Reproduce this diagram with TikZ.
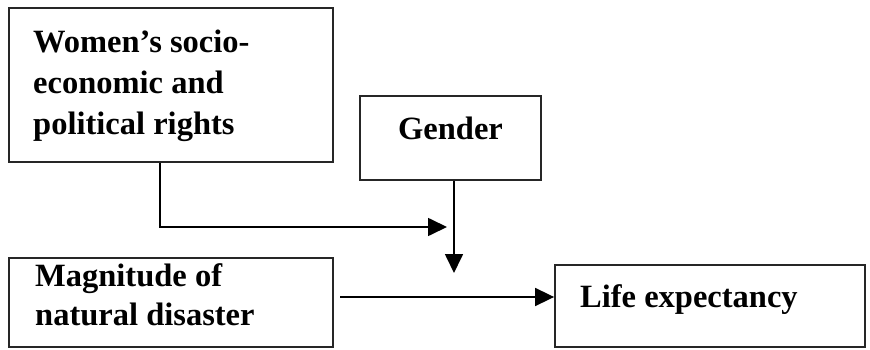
\documentclass[tikz,border=0pt]{standalone}
\usepackage{fontspec}
\setmainfont{Liberation Serif}
\usetikzlibrary{arrows.meta}
\begin{document}
\begin{tikzpicture}[x=1pt,y=-1pt,
  box/.style={draw=black!85,line width=1.8pt,rectangle,inner sep=0pt},
  lbl/.style={anchor=base west,inner sep=0pt,font=\fontsize{32.5}{38}\selectfont\bfseries},
  arr/.style={line width=1.7pt,-{Triangle[length=19pt,width=18pt]}}]
\useasboundingbox (0,0) rectangle (870,350);
% boxes
\node[box,minimum width=324pt,minimum height=154pt] (w) at (171,85) {};
\node[box,minimum width=181pt,minimum height=84pt] (g) at (450.5,138) {};
\node[box,minimum width=324pt,minimum height=89pt] (m) at (171,302.5) {};
\node[box,minimum width=310pt,minimum height=82pt] (le) at (710,306) {};
% texts
\node[lbl] (t1) at (33,53) {Women’s socio-};
\node[lbl] (t2) at (33,94) {economic and};
\node[lbl] (t3) at (33,135) {political rights};
\node[lbl] (t4) at (398,140) {Gender};
\node[lbl] (t5) at (35,286) {Magnitude of};
\node[lbl] (t6) at (35,325) {natural disaster};
\node[lbl] (t7) at (580,307) {Life expectancy};
% connectors
\coordinate (wx) at (160,0);
\coordinate (c1) at (447,227);
\coordinate (gx) at (454,0);
\coordinate (c2) at (454,273);
\coordinate (my) at (340,297);
\draw[arr] (w.south -| wx) |- (c1);
\draw[arr] (g.south -| gx) -- (c2);
\draw[arr] (my) -- (le.west |- my);
\end{tikzpicture}
\end{document}
